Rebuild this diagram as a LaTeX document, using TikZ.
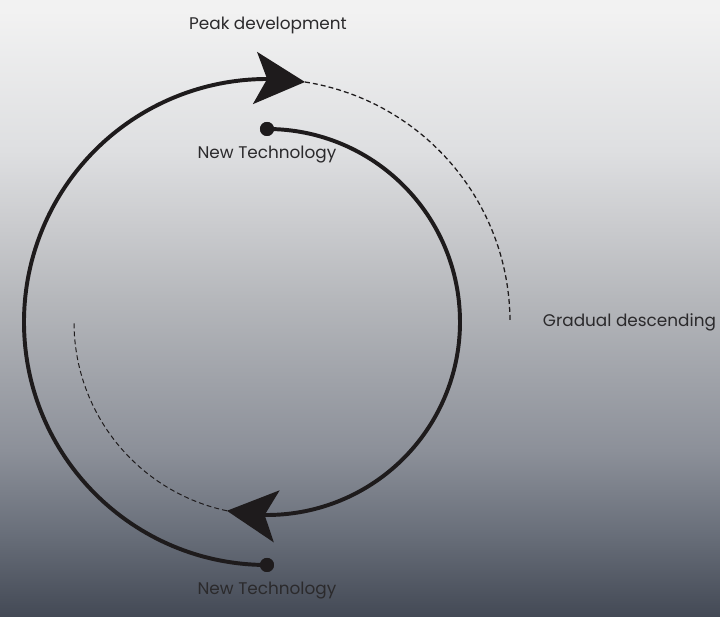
\documentclass[tikz,border=0pt]{standalone}
\usepackage{fontspec}
\setmainfont{Poppins}
\usetikzlibrary{positioning,arrows.meta,bending}
\definecolor{linegray}{HTML}{1E1B1C}
\definecolor{textgray}{HTML}{2B2A2C}
\definecolor{bgA}{HTML}{434955}
\definecolor{bgB}{HTML}{6A707B}
\definecolor{bgC}{HTML}{8C9099}
\definecolor{bgD}{HTML}{B5B7BB}
\definecolor{bgE}{HTML}{C9CACD}
\definecolor{bgF}{HTML}{DEDFE1}
\definecolor{bgG}{HTML}{F2F2F2}
\pgfdeclareverticalshading{bgfade}{100bp}{color(0bp)=(bgA); color(25bp)=(bgA); color(32bp)=(bgB); color(38.5bp)=(bgC); color(50.7bp)=(bgD); color(56.4bp)=(bgE); color(62.8bp)=(bgF); color(74.2bp)=(bgG); color(100bp)=(bgG)}
\tikzstyle{txt} = [font=\fontsize{12}{14}\selectfont, text=textgray]
\tikzstyle{dotnode} = [circle, fill=linegray, minimum size=0.35cm, inner sep=0pt]
\tikzstyle{cycleline} = [draw=linegray, line width=2.8pt]
\tikzstyle{fadeline} = [draw=linegray, line width=0.9pt, dash pattern=on 3.5pt off 2.2pt]
\tikzstyle{bigtip} = [-{Stealth[length=1.25cm, width=1.3cm, inset=0.3cm, flex]}]

\begin{document}
\begin{tikzpicture}
        %Background
        \shade[shading=bgfade] (-6.675,-7.375) rectangle (11.325,8.05);
        \useasboundingbox (-6.675,-7.375) rectangle (11.325,8.05);
        %Points
        \coordinate (tiptop) at (81:6.075);
        \coordinate (tipbot) at (-102:4.825);
        \node [dotnode] (dottop) at (90:4.825) {};
        \node [dotnode] (dotbot) at (-90:6.075) {};
        %Arcs
        \draw[cycleline, bigtip] (dotbot.center) arc[start angle=270, end angle=81, radius=6.075];
        \draw[fadeline] (tiptop) arc[start angle=81, end angle=0, radius=6.075] coordinate (dashend);
        \draw[cycleline, bigtip] (dottop.center) arc[start angle=90, end angle=-102, radius=4.825];
        \draw[fadeline, line width=0.7pt] (tipbot) arc[start angle=-102, end angle=-180, radius=4.825];
        \node [dotnode] at (dottop) {};
        \node [dotnode] at (dotbot) {};
        %Labels
        \node [txt] (peak) at (0.025,7.425) {Peak development};
        \node [txt, below = 0.12cm of dottop] (newtop) {New Technology};
        \node [txt, below = 0.12cm of dotbot] (newbot) {New Technology};
        \node [txt, right = 0.7cm of dashend] (descend) {Gradual descending};
\end{tikzpicture}
\end{document}
